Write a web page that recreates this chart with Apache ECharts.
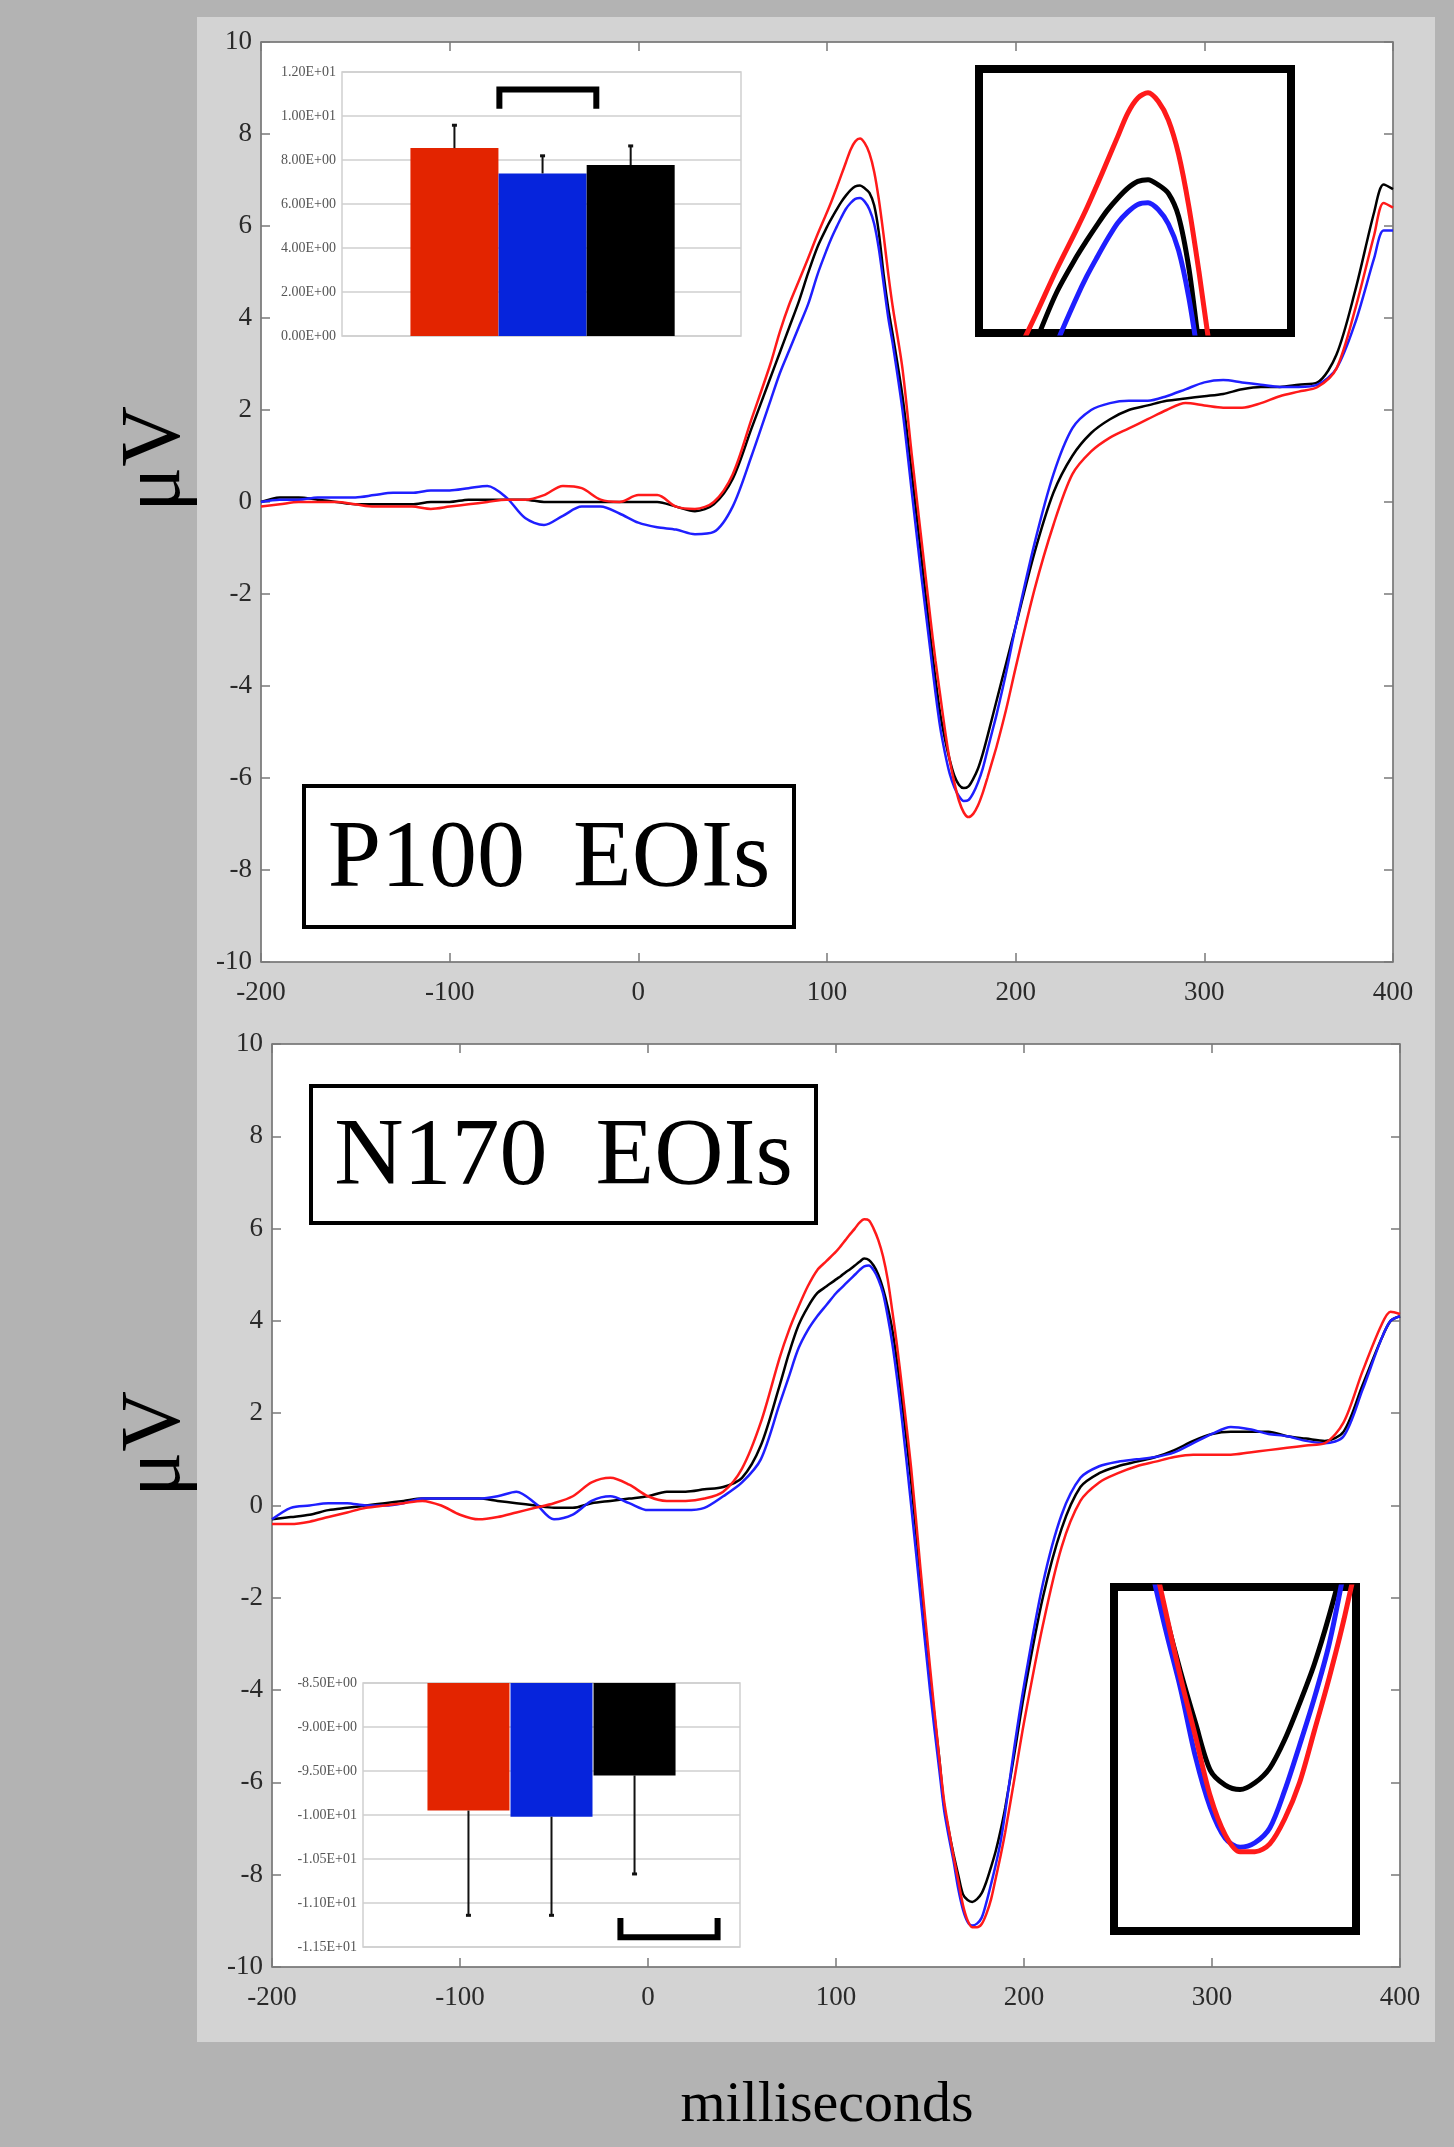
<!DOCTYPE html>
<html>
<head>
<meta charset="utf-8">
<title>P100 / N170 EOIs</title>
<script src="https://cdn.jsdelivr.net/npm/echarts@6/dist/echarts.min.js"></script>
<style>
  html, body { margin: 0; padding: 0; background: #b3b3b3; }
  #chart { width: 1454px; height: 2147px; }
</style>
</head>
<body>
<div id="chart"></div>
<script>
// time base (ms) shared by all waveforms, denser around P100 / N170
const times = [-200,-190,-180,-170,-160,-150,-140,-130,-120,-110,-100,-90,-80,-70,-60,-50,-40,-30,-20,-10,0,10,20,30,40,50,60,70,
  75,80,85,90,95,
  100,102.5,105,107.5,110,112.5,115,117.5,120,122.5,125,127.5,130,132.5,135,
  140,145,150,
  155,157.5,160,162.5,165,167.5,170,172.5,175,177.5,180,182.5,185,187.5,190,
  195,200,
  210,220,230,240,250,260,270,280,290,300,310,320,330,340,350,360,370,380,390,
  395,400]

// P100 EOIs (uV)
const p100Red = [-0.1,-0.05,0,0,0,-0.05,-0.1,-0.1,-0.1,-0.15,-0.1,-0.05,0,0.05,0.05,0.15,0.35,0.3,0.05,0,0.15,0.15,-0.1,-0.15,0,0.6,1.8,3.0,
  3.7,4.3,4.8,5.3,5.82,
  6.3,6.55,6.82,7.1,7.38,7.66,7.84,7.9,7.8,7.58,7.18,6.57,5.8,4.95,4.2,
  2.9,1.0,-0.8,
  -2.6,-3.45,-4.2,-4.95,-5.6,-6.1,-6.5,-6.75,-6.85,-6.78,-6.6,-6.33,-6.0,-5.65,-5.3,
  -4.5,-3.6,
  -1.9,-0.5,0.6,1.1,1.4,1.6,1.8,2.0,2.15,2.1,2.05,2.05,2.15,2.3,2.4,2.5,2.9,4.2,5.8,
  6.5,6.4]
const p100Blue = [0,0.05,0.05,0.1,0.1,0.1,0.15,0.2,0.2,0.25,0.25,0.3,0.35,0.1,-0.35,-0.5,-0.3,-0.1,-0.1,-0.25,-0.45,-0.55,-0.6,-0.7,-0.65,-0.1,1.0,2.2,
  2.8,3.3,3.8,4.3,4.95,
  5.5,5.75,5.97,6.18,6.37,6.5,6.59,6.61,6.53,6.36,6.05,5.5,4.75,4.0,3.4,
  2.0,0.2,-1.6,
  -3.3,-4.15,-4.9,-5.45,-5.9,-6.2,-6.4,-6.5,-6.48,-6.33,-6.1,-5.8,-5.4,-5.0,-4.6,
  -3.7,-2.7,
  -0.9,0.6,1.6,2.0,2.15,2.2,2.2,2.3,2.45,2.6,2.65,2.6,2.55,2.5,2.5,2.55,2.9,3.9,5.3,
  5.9,5.9]
const p100Black = [0,0.1,0.1,0.05,0,-0.05,-0.05,-0.05,-0.05,0,0,0.05,0.05,0.05,0.05,0,0,0,0,0,0,0,-0.1,-0.2,-0.05,0.5,1.6,2.7,
  3.25,3.8,4.35,4.98,5.55,
  5.98,6.17,6.35,6.52,6.66,6.78,6.86,6.88,6.82,6.72,6.45,5.85,4.95,4.2,3.6,
  2.3,0.6,-1.2,
  -3.0,-3.85,-4.6,-5.15,-5.6,-5.95,-6.15,-6.22,-6.18,-6.02,-5.8,-5.48,-5.1,-4.7,-4.3,
  -3.5,-2.7,
  -1.1,0.2,1.0,1.5,1.8,2.0,2.1,2.2,2.25,2.3,2.35,2.45,2.5,2.5,2.55,2.6,3.2,4.6,6.3,
  6.9,6.8]

// N170 EOIs (uV)
const n170Red = [-0.4,-0.4,-0.35,-0.25,-0.15,-0.05,0,0.05,0.1,0,-0.2,-0.3,-0.25,-0.15,-0.05,0.05,0.2,0.5,0.6,0.45,0.2,0.1,0.1,0.15,0.3,0.8,1.8,3.2,
  3.8,4.3,4.75,5.1,5.3,
  5.5,5.62,5.75,5.88,6.0,6.13,6.2,6.18,6.0,5.75,5.4,4.9,4.2,3.45,2.6,
  0.8,-1.4,-3.5,
  -5.5,-6.4,-7.02,-7.6,-8.12,-8.65,-8.99,-9.14,-9.14,-9.07,-8.85,-8.53,-8.07,-7.6,-7.08,
  -5.9,-4.7,
  -2.6,-0.9,0.1,0.5,0.7,0.85,0.95,1.05,1.1,1.1,1.1,1.15,1.2,1.25,1.3,1.35,1.8,2.9,3.9,
  4.2,4.15]
const n170Blue = [-0.3,-0.05,0,0.05,0.05,0,0,0.05,0.15,0.15,0.15,0.15,0.2,0.3,0.05,-0.3,-0.2,0.1,0.2,0.05,-0.1,-0.1,-0.1,-0.05,0.2,0.5,1.0,2.2,
  2.8,3.4,3.8,4.1,4.35,
  4.6,4.7,4.8,4.9,5.0,5.1,5.18,5.2,5.1,4.9,4.6,4.1,3.5,2.75,1.9,
  0,-2.0,-4.0,
  -5.75,-6.6,-7.18,-7.7,-8.3,-8.75,-9.02,-9.1,-9.06,-8.93,-8.6,-8.2,-7.78,-7.3,-6.65,
  -5.2,-3.9,
  -1.7,-0.2,0.6,0.85,0.95,1.0,1.05,1.15,1.35,1.55,1.7,1.65,1.55,1.5,1.4,1.35,1.5,2.5,3.6,
  4.0,4.1]
const n170Black = [-0.3,-0.25,-0.2,-0.1,-0.05,0,0.05,0.1,0.15,0.15,0.15,0.15,0.1,0.05,0,-0.05,-0.05,0.05,0.1,0.15,0.2,0.3,0.3,0.35,0.4,0.6,1.3,2.6,
  3.3,3.9,4.3,4.6,4.75,
  4.9,4.97,5.05,5.12,5.2,5.28,5.35,5.32,5.2,5.0,4.7,4.3,3.8,3.1,2.3,
  0.5,-1.6,-3.7,
  -5.5,-6.5,-7.05,-7.55,-8.0,-8.42,-8.55,-8.59,-8.53,-8.4,-8.15,-7.83,-7.48,-7.05,-6.55,
  -5.35,-4.1,
  -2.0,-0.5,0.4,0.7,0.85,0.95,1.05,1.2,1.4,1.55,1.6,1.6,1.6,1.5,1.45,1.4,1.6,2.6,3.6,
  4.0,4.1]

// inset bar charts: mean amplitude and error bar end
const conditions = ['red', 'blue', 'black']
const p100Means = [8.54, 7.39, 7.77]
const p100Errors = [9.58, 8.19, 8.64]
const n170Means = [-9.95, -10.02, -9.55]
const n170Errors = [-11.14, -11.14, -10.67]
// significance brackets: [xStart, xEnd, barLevel, legLevel]
const p100Bracket = [1.51, 2.61, 11.2, 10.33]
const n170Bracket = [2.83, 4.0, -11.39, -11.17]

const lineColors = { red: '#ff1a1a', blue: '#1f1fff', black: '#000000' }
const barColors = { red: '#e32400', blue: '#0624dc', black: '#000000' }
const serif = '"Liberation Serif", "Times New Roman", serif'

function pairs(ys) {
  return times.map((t, i) => [t, ys[i]])
}

function sci(v) {
  if (Math.abs(v) < 1e-12) return '0.00E+00'
  const sign = v < 0 ? '-' : ''
  const a = Math.abs(v)
  const e = Math.floor(Math.log10(a) + 1e-9)
  const m = a / Math.pow(10, e)
  return sign + m.toFixed(2) + 'E' + (e < 0 ? '-' : '+') + String(Math.abs(e)).padStart(2, '0')
}

function waveSeries(gridIdx, name, ys, width) {
  return {
    type: 'line',
    name: name,
    xAxisIndex: gridIdx,
    yAxisIndex: gridIdx,
    data: pairs(ys),
    smooth: 0.3,
    showSymbol: false,
    clip: true,
    lineStyle: { color: lineColors[name], width: width },
    z: name === 'black' ? 3 : (name === 'blue' ? 4 : 5),
    silent: true
  }
}

function errorSeries(idx, means, errs) {
  return {
    type: 'custom',
    xAxisIndex: idx,
    yAxisIndex: idx,
    data: conditions.map((c, i) => [i + 1, means[i], errs[i]]),
    renderItem: (params, api) => {
      const p0 = api.coord([api.value(0), api.value(1)])
      const p1 = api.coord([api.value(0), api.value(2)])
      return {
        type: 'group',
        children: [
          { type: 'line', shape: { x1: p0[0], y1: p0[1], x2: p1[0], y2: p1[1] }, style: { stroke: '#111', lineWidth: 2 } },
          { type: 'line', shape: { x1: p1[0] - 2.5, y1: p1[1], x2: p1[0] + 2.5, y2: p1[1] }, style: { stroke: '#111', lineWidth: 3 } }
        ]
      }
    },
    z: 6
  }
}

function bracketSeries(idx, br) {
  return {
    type: 'custom',
    xAxisIndex: idx,
    yAxisIndex: idx,
    data: [br],
    renderItem: (params, api) => {
      const a = api.coord([api.value(0), api.value(3)])
      const b = api.coord([api.value(0), api.value(2)])
      const c = api.coord([api.value(1), api.value(2)])
      const d = api.coord([api.value(1), api.value(3)])
      return {
        type: 'polyline',
        shape: { points: [a, b, c, d] },
        style: { stroke: '#000', lineWidth: 6, fill: null, lineJoin: 'miter' }
      }
    },
    z: 6
  }
}

function barSeries(idx, means, width) {
  return {
    type: 'bar',
    xAxisIndex: idx,
    yAxisIndex: idx,
    barWidth: width,
    clip: true,
    data: conditions.map((c, i) => ({ value: [i + 1, means[i]], itemStyle: { color: barColors[c] } })),
    z: 5
  }
}

const chart = echarts.init(document.getElementById('chart'))

const tickLabel = { fontFamily: serif, fontSize: 27, color: '#2a2a2a' }
const mainAxisLine = { show: true, onZero: false, lineStyle: { color: '#7a7a7a', width: 1.5 } }
const mainTick = { show: true, inside: true, length: 9, lineStyle: { color: '#7a7a7a', width: 1.5 } }

// grids: 0,1 main plots | 2,3 bar insets | 4,5 magnified views
const grids = [
  { left: 261, top: 42, width: 1132, height: 920 },
  { left: 272, top: 1044, width: 1128, height: 923 },
  { left: 342, top: 72, width: 399, height: 264 },
  { left: 363, top: 1683, width: 377, height: 264 },
  { left: 979, top: 69, width: 312, height: 264 },
  { left: 1114, top: 1587, width: 242, height: 344 }
]

const xAxes = []
const yAxes = []

for (let g = 0; g < 2; g++) {
  xAxes.push({
    type: 'value', gridIndex: g, min: -200, max: 400, interval: 100,
    axisLine: mainAxisLine, axisTick: mainTick, splitLine: { show: false },
    axisLabel: Object.assign({ margin: 17 }, tickLabel)
  })
  yAxes.push({
    type: 'value', gridIndex: g, min: -10, max: 10, interval: 2,
    axisLine: mainAxisLine, axisTick: mainTick, splitLine: { show: false },
    axisLabel: Object.assign({ margin: 9 }, tickLabel)
  })
}

// bar insets
xAxes.push({ type: 'value', gridIndex: 2, min: -0.276, max: 4.252, show: false })
xAxes.push({ type: 'value', gridIndex: 3, min: -0.27, max: 4.27, show: false })
const insetLabel = { fontFamily: serif, fontSize: 14, color: '#555', margin: 6, formatter: sci }
yAxes.push({
  type: 'value', gridIndex: 2, min: 0, max: 12, interval: 2,
  axisLine: { show: false, onZero: false }, axisTick: { show: false },
  splitLine: { show: true, lineStyle: { color: '#cfcfcf', width: 1.5 } },
  axisLabel: insetLabel
})
yAxes.push({
  type: 'value', gridIndex: 3, min: -11.5, max: -8.5, interval: 0.5,
  axisLine: { show: false, onZero: false }, axisTick: { show: false },
  splitLine: { show: true, lineStyle: { color: '#cfcfcf', width: 1.5 } },
  axisLabel: insetLabel
})

// magnified views
xAxes.push({ type: 'value', gridIndex: 4, min: 76, max: 152.6, show: false })
yAxes.push({ type: 'value', gridIndex: 4, min: 5.08, max: 8.18, show: false })
xAxes.push({ type: 'value', gridIndex: 5, min: 151.3, max: 192, show: false })
yAxes.push({ type: 'value', gridIndex: 5, min: -9.84, max: -6.8, show: false })

// top and right tick marks of the main boxes
for (let g = 0; g < 2; g++) {
  xAxes.push({
    type: 'value', gridIndex: g, position: 'top', min: -200, max: 400, interval: 100,
    axisLine: mainAxisLine, axisTick: mainTick, axisLabel: { show: false }, splitLine: { show: false }
  })
  yAxes.push({
    type: 'value', gridIndex: g, position: 'right', min: -10, max: 10, interval: 2,
    axisLine: mainAxisLine, axisTick: mainTick, axisLabel: { show: false }, splitLine: { show: false }
  })
}

grids.forEach((g, i) => {
  g.show = true
  g.backgroundColor = '#ffffff'
  if (i < 2) {
    g.borderColor = '#7a7a7a'
    g.borderWidth = 1
  } else if (i < 4) {
    g.borderColor = '#cfcfcf'
    g.borderWidth = 1.5
  } else {
    g.borderColor = '#000000'
    g.borderWidth = 8
  }
})

const series = [
  waveSeries(0, 'black', p100Black, 2.5),
  waveSeries(0, 'blue', p100Blue, 2.5),
  waveSeries(0, 'red', p100Red, 2.5),
  waveSeries(1, 'black', n170Black, 2.5),
  waveSeries(1, 'blue', n170Blue, 2.5),
  waveSeries(1, 'red', n170Red, 2.5),
  barSeries(2, p100Means, 88),
  errorSeries(2, p100Means, p100Errors),
  bracketSeries(2, p100Bracket),
  barSeries(3, n170Means, 82),
  errorSeries(3, n170Means, n170Errors),
  bracketSeries(3, n170Bracket),
  waveSeries(4, 'black', p100Black, 5),
  waveSeries(4, 'blue', p100Blue, 5),
  waveSeries(4, 'red', p100Red, 5),
  waveSeries(5, 'black', n170Black, 5),
  waveSeries(5, 'blue', n170Blue, 5),
  waveSeries(5, 'red', n170Red, 5)
]

function titleBox(x, y, w, h, text) {
  return {
    type: 'group',
    z: 20,
    children: [
      { type: 'rect', shape: { x: x, y: y, width: w, height: h }, style: { fill: '#fff', stroke: '#000', lineWidth: 4 } },
      {
        type: 'text', x: x + w / 2, y: y + h / 2 + 4,
        style: { text: text, font: '96px ' + serif, fill: '#000', align: 'center', verticalAlign: 'middle' }
      }
    ]
  }
}

chart.setOption({
  backgroundColor: '#b3b3b3',
  animation: false,
  grid: grids,
  xAxis: xAxes,
  yAxis: yAxes,
  series: series,
  graphic: [
    { type: 'rect', z: -10, silent: true, shape: { x: 197, y: 17, width: 1238, height: 2025 }, style: { fill: '#d3d3d3' } },
    titleBox(304, 786, 490, 141, 'P100  EOIs'),
    titleBox(311, 1086, 505, 137, 'N170  EOIs'),
    {
      type: 'text', x: 157, y: 459, rotation: Math.PI / 2, z: 20,
      style: { text: 'μV', font: '84px ' + serif, fill: '#000', align: 'center', verticalAlign: 'middle' }
    },
    {
      type: 'text', x: 157, y: 1444, rotation: Math.PI / 2, z: 20,
      style: { text: 'μV', font: '84px ' + serif, fill: '#000', align: 'center', verticalAlign: 'middle' }
    },
    {
      type: 'text', x: 827, y: 2106, z: 20,
      style: { text: 'milliseconds', font: '58px ' + serif, fill: '#000', align: 'center', verticalAlign: 'middle' }
    }
  ]
})

window.addEventListener('resize', () => {
  chart.resize()
})
</script>
</body>
</html>
